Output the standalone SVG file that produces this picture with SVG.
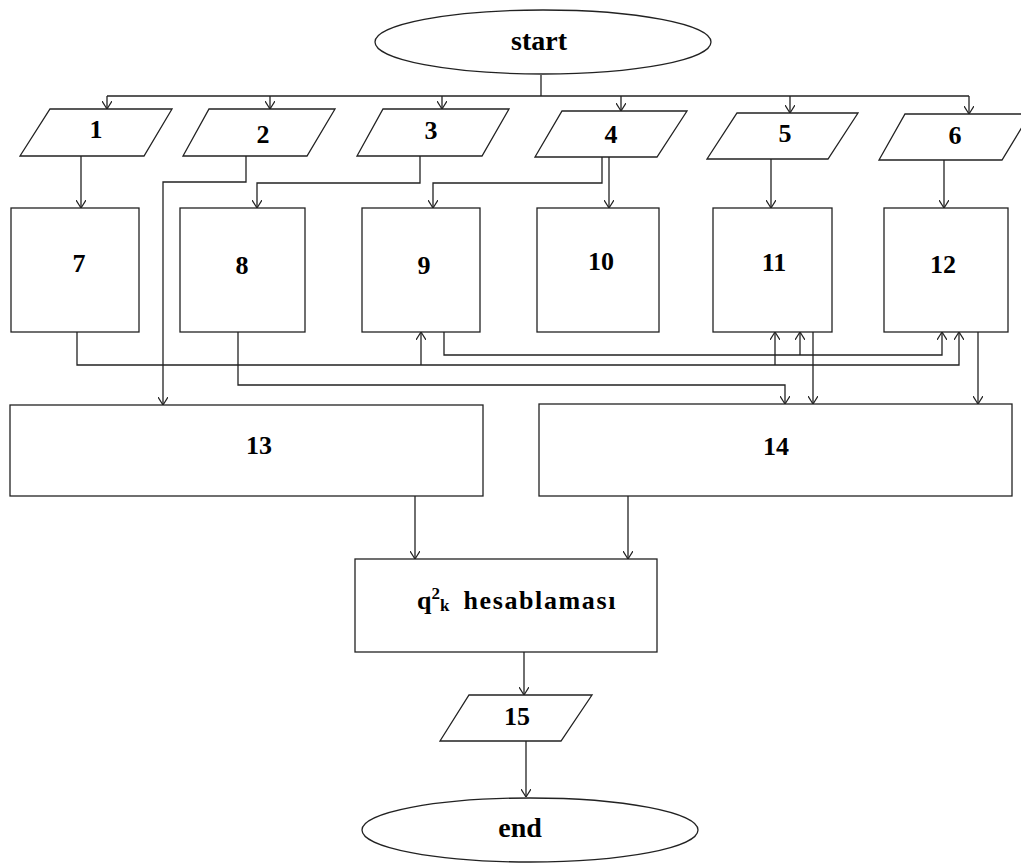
<svg xmlns="http://www.w3.org/2000/svg" width="1021" height="867" viewBox="0 0 1021 867">
<style>
.s{fill:#fff;stroke:#222;stroke-width:1.3}
.c{fill:none;stroke:#222;stroke-width:1.3}
.t{font-family:"Liberation Serif",serif;font-weight:bold;font-size:26px;fill:#000;text-anchor:middle}
.b{font-size:28px}
</style>
<defs>
<marker id="a" viewBox="0 0 8 10" refX="8" refY="5" markerWidth="8" markerHeight="10" markerUnits="userSpaceOnUse" orient="auto">
<path d="M0,0 L8,5 L0,10" fill="none" stroke="#222" stroke-width="1.2"/>
</marker>
</defs>
<rect width="1021" height="867" fill="#fff"/>
<g id="connectors" class="c">
<path d="M541,75 V96"/>
<path d="M107,96 H969"/>
<path d="M107,96 V109" marker-end="url(#a)"/>
<path d="M270,96 V109" marker-end="url(#a)"/>
<path d="M442,96 V109" marker-end="url(#a)"/>
<path d="M621,96 V111" marker-end="url(#a)"/>
<path d="M790,96 V113" marker-end="url(#a)"/>
<path d="M969,96 V114" marker-end="url(#a)"/>
<path d="M81,156 V208" marker-end="url(#a)"/>
<path d="M246,156 V182 H163 V405" marker-end="url(#a)"/>
<path d="M420,156 V183 H257 V208" marker-end="url(#a)"/>
<path d="M602,157 V183 H433 V208" marker-end="url(#a)"/>
<path d="M609,157 V208" marker-end="url(#a)"/>
<path d="M771,159 V208" marker-end="url(#a)"/>
<path d="M944,160 V208" marker-end="url(#a)"/>
<path d="M77,332 V365 H959 V332" marker-end="url(#a)"/>
<path d="M421,365 V332" marker-end="url(#a)"/>
<path d="M775,365 V332" marker-end="url(#a)"/>
<path d="M444,332 V355 H942 V332" marker-end="url(#a)"/>
<path d="M800,355 V332" marker-end="url(#a)"/>
<path d="M238,332 V385 H785 V404" marker-end="url(#a)"/>
<path d="M813,332 V404" marker-end="url(#a)"/>
<path d="M978,332 V404" marker-end="url(#a)"/>
<path d="M415,496 V559" marker-end="url(#a)"/>
<path d="M628,496 V559" marker-end="url(#a)"/>
<path d="M524,652 V695" marker-end="url(#a)"/>
<path d="M526,741 V797" marker-end="url(#a)"/>
</g>
<g id="start"><ellipse class="s" cx="543" cy="42" rx="168" ry="32"/><text class="t b" x="539" y="50">start</text></g>
<g id="n1"><polygon class="s" points="50,109 172,109 144,156 20,156"/><text class="t" x="96" y="138">1</text></g>
<g id="n2"><polygon class="s" points="209,109 335,109 307,156 183,156"/><text class="t" x="263" y="143">2</text></g>
<g id="n3"><polygon class="s" points="383,109 509,109 482,156 357,156"/><text class="t" x="431" y="139">3</text></g>
<g id="n4"><polygon class="s" points="562,111 687,111 657,157 535,157"/><text class="t" x="611" y="143">4</text></g>
<g id="n5"><polygon class="s" points="737,113 858,113 828,159 707,159"/><text class="t" x="785" y="142">5</text></g>
<g id="n6"><polygon class="s" points="905,114 1030,114 1002,160 879,160"/><text class="t" x="955" y="144">6</text></g>
<g id="n7"><rect class="s" x="11" y="208" width="128" height="124"/><text class="t" x="79" y="272">7</text></g>
<g id="n8"><rect class="s" x="180" y="208" width="125" height="124"/><text class="t" x="242" y="274">8</text></g>
<g id="n9"><rect class="s" x="362" y="208" width="118" height="124"/><text class="t" x="424" y="274">9</text></g>
<g id="n10"><rect class="s" x="537" y="208" width="122" height="124"/><text class="t" x="601" y="270">10</text></g>
<g id="n11"><rect class="s" x="713" y="208" width="119" height="124"/><text class="t" x="774" y="271">11</text></g>
<g id="n12"><rect class="s" x="884" y="208" width="124" height="124"/><text class="t" x="943" y="273">12</text></g>
<g id="n13"><rect class="s" x="10" y="405" width="473" height="91"/><text class="t" x="259" y="454">13</text></g>
<g id="n14"><rect class="s" x="539" y="404" width="473" height="92"/><text class="t" x="776" y="455">14</text></g>
<g id="q"><rect class="s" x="355" y="559" width="302" height="93"/><text class="t" x="417" y="609" style="text-anchor:start">q<tspan font-size="17" dy="-10">2</tspan><tspan font-size="17" dy="12">k</tspan><tspan dy="-2" dx="14" textLength="152">hesablaması</tspan></text></g>
<g id="n15"><polygon class="s" points="469,695 592,695 561,741 440,741"/><text class="t" x="517" y="725">15</text></g>
<g id="end"><ellipse class="s" cx="530" cy="830" rx="168" ry="32"/><text class="t b" x="520" y="837">end</text></g>
</svg>
